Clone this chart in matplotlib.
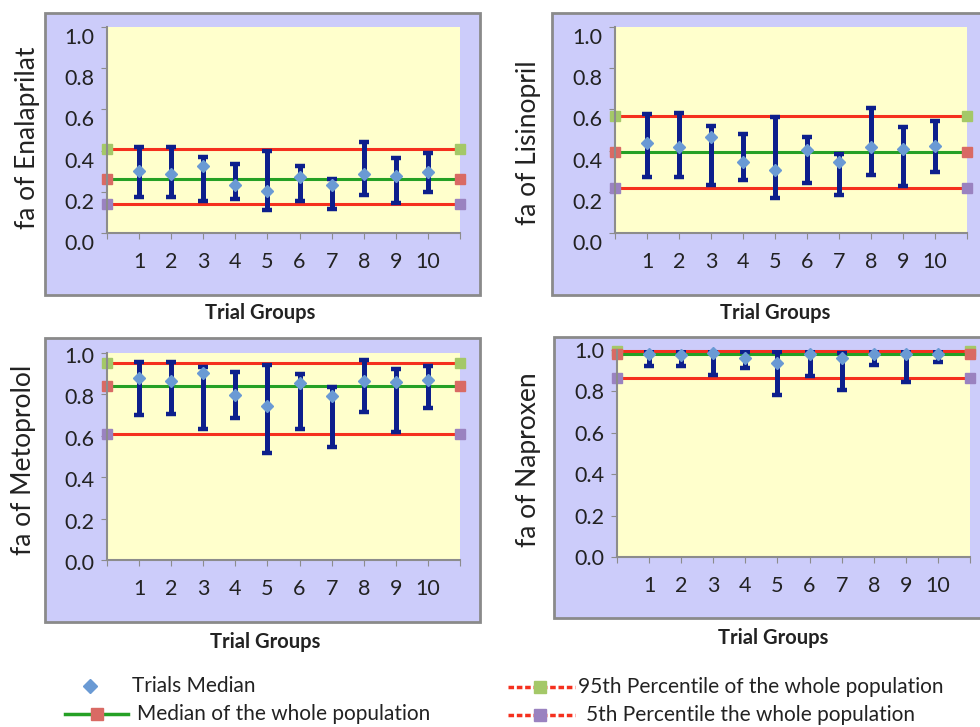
import numpy as np
import matplotlib
matplotlib.use("Agg")
import matplotlib.pyplot as plt
from matplotlib.patches import Rectangle
from matplotlib.transforms import ScaledTranslation

# trial groups on the x axis
groups = np.arange(1, 11)
group_labels = [str(g) for g in groups]

# per-drug trial medians and ranges (low / high)
enal_med = [0.302, 0.287, 0.326, 0.234, 0.206, 0.274, 0.234, 0.287, 0.279, 0.294]
enal_lo = [0.177, 0.177, 0.153, 0.165, 0.110, 0.153, 0.116, 0.185, 0.148, 0.197]
enal_hi = [0.419, 0.419, 0.368, 0.335, 0.400, 0.323, 0.261, 0.440, 0.363, 0.387]
enal_pop = [0.408, 0.263, 0.142]  # 95th, median, 5th

lis_med = [0.435, 0.419, 0.468, 0.347, 0.306, 0.403, 0.344, 0.419, 0.408, 0.424]
lis_lo = [0.274, 0.274, 0.231, 0.258, 0.169, 0.242, 0.185, 0.282, 0.226, 0.298]
lis_hi = [0.577, 0.581, 0.519, 0.481, 0.561, 0.465, 0.384, 0.605, 0.516, 0.544]
lis_pop = [0.568, 0.395, 0.218]

met_med = [0.879, 0.866, 0.903, 0.795, 0.745, 0.855, 0.794, 0.866, 0.858, 0.871]
met_lo = [0.702, 0.706, 0.632, 0.685, 0.516, 0.634, 0.545, 0.713, 0.616, 0.734]
met_hi = [0.955, 0.955, 0.932, 0.908, 0.944, 0.900, 0.835, 0.965, 0.924, 0.939]
met_pop = [0.952, 0.842, 0.608]

nap_med = [0.980, 0.976, 0.987, 0.960, 0.935, 0.979, 0.960, 0.980, 0.979, 0.979]
nap_lo = [0.923, 0.923, 0.879, 0.911, 0.785, 0.874, 0.806, 0.927, 0.847, 0.940]
nap_hi = [0.995, 0.995, 0.998, 0.990, 0.990, 0.995, 0.985, 0.995, 0.995, 0.995]
nap_pop = [0.995, 0.979, 0.863]

drugs = ["Enalaprilat", "Lisinopril", "Metoprolol", "Naproxen"]

W, H = 980, 727
LAV = "#ccccfa"
YEL = "#ffffcc"
BAR = "#0d1f8c"
DIAM = "#6a9ad4"
RED = "#f5301e"
GREEN = "#25a025"
SQ95 = "#a4c868"
SQMED = "#d96a64"
SQ5 = "#9a82c0"
FONT = "Lato"
TXT = "#222222"

fig = plt.figure(figsize=(W / 100, H / 100), dpi=100)

# background layer in pixel coordinates for the lavender frames and legend
bg = fig.add_axes([0, 0, 1, 1], zorder=0)
bg.set_xlim(0, W)
bg.set_ylim(H, 0)
bg.axis("off")

frames = [(45, 13, 480, 295), (552, 13, 990, 295),
          (45, 338, 480, 622), (554, 337, 990, 618)]
for x0, y0, x1, y1 in frames:
    bg.add_patch(Rectangle((x0, y0), x1 - x0, y1 - y0, facecolor=LAV,
                           edgecolor="#8a8a8a", lw=2))

# plot areas (left, top, right, bottom) in pixels
areas = [(107, 27, 460, 233), (615, 27, 967, 233),
         (107, 353, 460, 560), (617, 350, 970, 557)]
ylab_pos = [(27, 138), (528, 143), (24, 460), (528, 460)]
xlab_pos = [(260, 313), (775, 313), (265, 642), (773, 638)]
label_shift = [9, 9, 2, 0]

panels = [
    (enal_med, enal_lo, enal_hi, enal_pop),
    (lis_med, lis_lo, lis_hi, lis_pop),
    (met_med, met_lo, met_hi, met_pop),
    (nap_med, nap_lo, nap_hi, nap_pop),
]

for i, (med, lo, hi, pop) in enumerate(panels):
    l, t, r, b = areas[i]
    ax = fig.add_axes([l / W, 1 - b / H, (r - l) / W, (b - t) / H], zorder=1)
    ax.set_facecolor(YEL)
    ax.set_xlim(0, 11)
    ax.set_ylim(0, 1.0)

    med = np.array(med)
    lo = np.array(lo)
    hi = np.array(hi)

    p95, pmed, p5 = pop
    ax.plot([0, 11], [p95, p95], color=RED, lw=2.2, marker="s", ms=7,
            mfc=SQ95, mec=SQ95, clip_on=False, zorder=2)
    ax.plot([0, 11], [pmed, pmed], color=GREEN, lw=2.2, marker="s", ms=7,
            mfc=SQMED, mec=SQMED, clip_on=False, zorder=2)
    ax.plot([0, 11], [p5, p5], color=RED, lw=2.2, marker="s", ms=7,
            mfc=SQ5, mec=SQ5, clip_on=False, zorder=2)

    ax.errorbar(groups, med, yerr=[med - lo, hi - med], fmt="none",
                ecolor=BAR, elinewidth=3.6, capsize=3.4, capthick=3.2,
                zorder=3)
    ax.plot(groups, med, linestyle="none", marker="D", ms=6.5,
            color=DIAM, mec=DIAM, zorder=4, clip_on=False)

    for side in ["top", "right"]:
        ax.spines[side].set_visible(False)
    for side in ["left", "bottom"]:
        ax.spines[side].set_color("#8c8c8c")
        ax.spines[side].set_linewidth(1.5)

    ax.set_xticks(range(0, 12))
    ax.set_xticklabels([""] + group_labels + [""])
    ax.set_yticks(np.arange(0, 1.01, 0.2))
    ax.set_yticklabels([f"{v:.1f}" for v in np.arange(0, 1.01, 0.2)])
    ax.tick_params(axis="x", length=4, color="#8c8c8c", pad=10,
                   labelsize=15.5, labelcolor=TXT)
    ax.tick_params(axis="y", length=4, color="#8c8c8c", pad=5,
                   labelsize=15.5, labelcolor=TXT)
    for lab in ax.get_xticklabels() + ax.get_yticklabels():
        lab.set_fontfamily(FONT)
    shift = ScaledTranslation(0, -label_shift[i] / 100, fig.dpi_scale_trans)
    for lab in ax.get_yticklabels():
        lab.set_transform(lab.get_transform() + shift)

    yx, yy = ylab_pos[i]
    bg.text(yx, yy, f"fa of {drugs[i]}", rotation=90, ha="center",
            va="center", fontsize=19, family=FONT, color=TXT)
    xx, xy = xlab_pos[i]
    bg.text(xx, xy, "Trial Groups", ha="center", va="center", fontsize=14.5,
            family=FONT, fontweight="bold", color=TXT)

# legend
leg_font = dict(fontsize=15, family=FONT, color=TXT, va="center")
bg.plot([90], [686], linestyle="none", marker="D", ms=7, color=DIAM)
bg.text(132, 686, "Trials Median", **leg_font)
bg.plot([65, 128], [714, 714], color=GREEN, lw=2.5)
bg.plot([97], [714], marker="s", ms=9, color=SQMED, linestyle="none")
bg.text(137, 714, "Median of the whole population", **leg_font)

bg.plot([508, 575], [687, 687], color=RED, lw=2.5, linestyle=(0, (1.6, 0.8)))
bg.plot([540], [687], marker="s", ms=9, color=SQ95, linestyle="none")
bg.text(578, 687, "95th Percentile of the whole population", **leg_font)
bg.plot([508, 575], [715, 715], color=RED, lw=2.5, linestyle=(0, (1.6, 0.8)))
bg.plot([540], [715], marker="s", ms=9, color=SQ5, linestyle="none")
bg.text(586, 715, "5th Percentile the whole population", **leg_font)

fig.savefig("out.png", dpi=100, facecolor="white")
